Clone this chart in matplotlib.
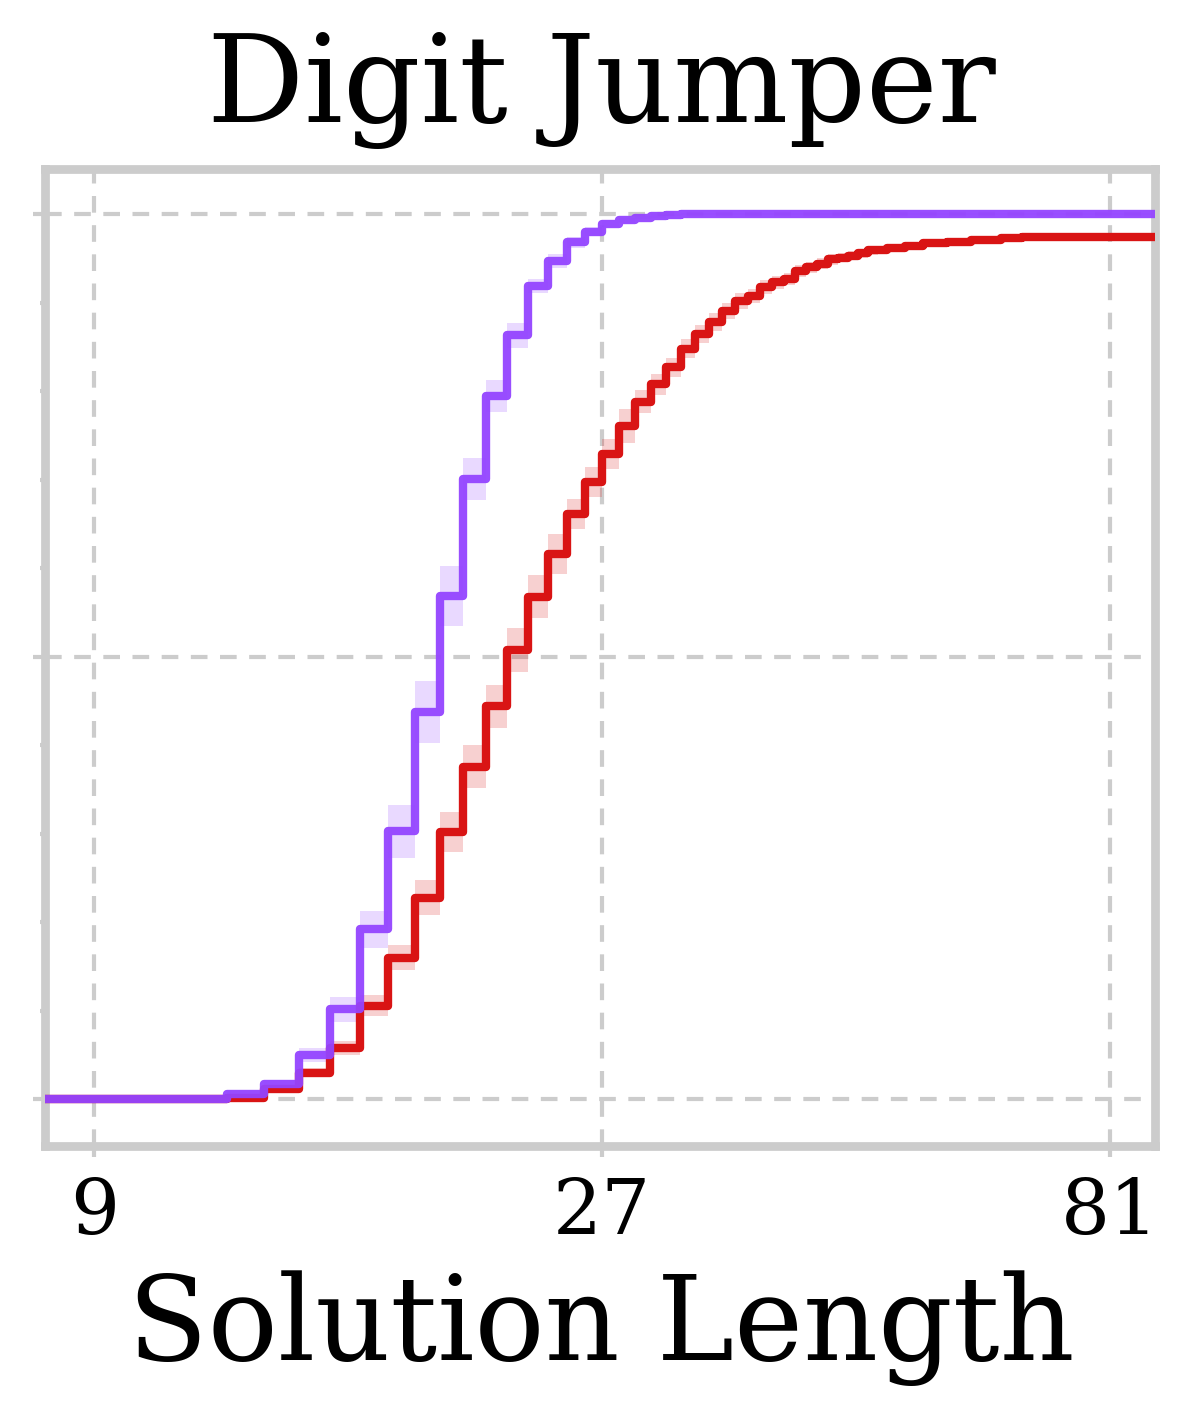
import matplotlib
matplotlib.use("Agg")
import matplotlib.pyplot as plt
import numpy as np
from matplotlib.ticker import FixedLocator, NullFormatter, MultipleLocator

plt.rcParams['font.family'] = ['DejaVu Serif']

# Solution lengths (x) at which the empirical CDFs are evaluated
lengths = [8, 9, 10, 11, 12, 13, 14, 15, 16, 17, 18, 19, 20, 21, 22, 23, 24, 25,
           26, 27, 28, 29, 30, 31, 32, 33, 34, 35, 36, 37, 38, 39, 40, 41, 42, 43,
           44, 45, 46, 47, 48, 49, 50, 52, 54, 57, 60, 64, 67, 72, 80, 90]

purple_cdf = [0.0, 0.0, 0.0, 0.001, 0.006, 0.017, 0.050, 0.102, 0.192, 0.303,
              0.438, 0.569, 0.701, 0.795, 0.863, 0.919, 0.947, 0.968, 0.980,
              0.989, 0.993, 0.996, 0.998, 0.999, 1.0, 1.0, 1.0, 1.0, 1.0, 1.0,
              1.0, 1.0, 1.0, 1.0, 1.0, 1.0, 1.0, 1.0, 1.0, 1.0, 1.0, 1.0, 1.0,
              1.0, 1.0, 1.0, 1.0, 1.0, 1.0, 1.0, 1.0, 1.0]
purple_band = [0.0, 0.0, 0.0, 0.001, 0.003, 0.005, 0.008, 0.014, 0.021, 0.030,
               0.035, 0.034, 0.024, 0.018, 0.014, 0.008, 0.0075, 0.006, 0.005,
               0.004, 0.003, 0.002, 0.002, 0.001, 0.001, 0.001, 0.001, 0.001,
               0.001, 0.001, 0.001, 0.001, 0.001, 0.001, 0.001, 0.001, 0.001,
               0.001, 0.001, 0.001, 0.001, 0.001, 0.001, 0.001, 0.001, 0.001,
               0.001, 0.001, 0.001, 0.001, 0.001, 0.001]

red_cdf = [0.0, 0.0, 0.0, 0.0, 0.002, 0.012, 0.030, 0.058, 0.106, 0.160, 0.228,
           0.302, 0.376, 0.444, 0.508, 0.568, 0.616, 0.661, 0.697, 0.729, 0.761,
           0.788, 0.808, 0.827, 0.848, 0.865, 0.878, 0.891, 0.902, 0.908, 0.918,
           0.923, 0.927, 0.936, 0.940, 0.944, 0.949, 0.951, 0.953, 0.956, 0.959,
           0.960, 0.962, 0.964, 0.967, 0.969, 0.971, 0.973, 0.974, 0.974, 0.974,
           0.974]
red_band = [0.0, 0.0, 0.0, 0.0, 0.002, 0.004, 0.005, 0.0075, 0.012, 0.014,
            0.020, 0.023, 0.024, 0.024, 0.025, 0.024, 0.023, 0.017, 0.017,
            0.017, 0.019, 0.013, 0.012, 0.011, 0.011, 0.010, 0.010, 0.009,
            0.009, 0.008, 0.008, 0.007, 0.007, 0.007, 0.006, 0.006, 0.006,
            0.005, 0.005, 0.005, 0.005, 0.004, 0.004, 0.004, 0.004, 0.003,
            0.003, 0.003, 0.003, 0.003, 0.003, 0.003]

x_ticks = [9, 27, 81]
x_ticklabels = ["9", "27", "81"]

title = "Digit Jumper"
xlabel = "Solution Length"

purple = "#9444FF"
red = "#D91414"
gray = "#CCCCCC"

W, H = 1191, 1414
dpi = 300
fig = plt.figure(figsize=(W / dpi, H / dpi), dpi=dpi)
ax = fig.add_axes([44.5 / W, (H - 1146.5) / H, (1155 - 44.5) / W, (1146.5 - 170) / H])

x = np.array(lengths, dtype=float)
pc = np.array(purple_cdf)
pb = np.array(purple_band)
rc = np.array(red_cdf)
rb = np.array(red_band)

ax.fill_between(x, rc - rb, rc + rb, step="post", color=red, alpha=0.2, lw=0, zorder=2)
ax.fill_between(x, pc - pb, pc + pb, step="post", color=purple, alpha=0.2, lw=0, zorder=2)
ax.plot(x, rc, drawstyle="steps-post", color=red, lw=2.0, zorder=3)
ax.plot(x, pc, drawstyle="steps-post", color=purple, lw=2.0, alpha=0.95, zorder=4)

ax.set_xscale("log", base=3)
ax.set_xlim(8.08, 89.3)
ax.set_ylim(-0.052, 1.051)

ax.xaxis.set_major_locator(FixedLocator(x_ticks))
ax.xaxis.set_minor_locator(FixedLocator([]))
ax.set_xticklabels(x_ticklabels)
ax.xaxis.set_minor_formatter(NullFormatter())

ax.yaxis.set_major_locator(FixedLocator([0.0, 0.5, 1.0]))
ax.yaxis.set_minor_locator(MultipleLocator(0.1))
ax.yaxis.set_major_formatter(NullFormatter())

ax.grid(True, which="major", color=gray, linestyle=(0, (4, 3)), linewidth=1.0, zorder=1)
ax.set_axisbelow(True)

for s in ax.spines.values():
    s.set_color(gray)
    s.set_linewidth(2.1)

ax.tick_params(axis="x", which="major", length=2.6, width=1.0, color=gray,
               labelsize=18.5, pad=4.5, labelcolor="black")
ax.tick_params(axis="y", which="major", length=2.8, width=1.0, color=gray)
ax.tick_params(axis="y", which="minor", length=1.2, width=1.0, color=gray)

fig.text(601 / W, (H - 122) / H, title, ha="center", va="baseline", fontsize=29.1)
fig.text(601 / W, (H - 1360) / H, xlabel, ha="center", va="baseline", fontsize=28.0)

fig.savefig("out.png", dpi=dpi, facecolor="white")
